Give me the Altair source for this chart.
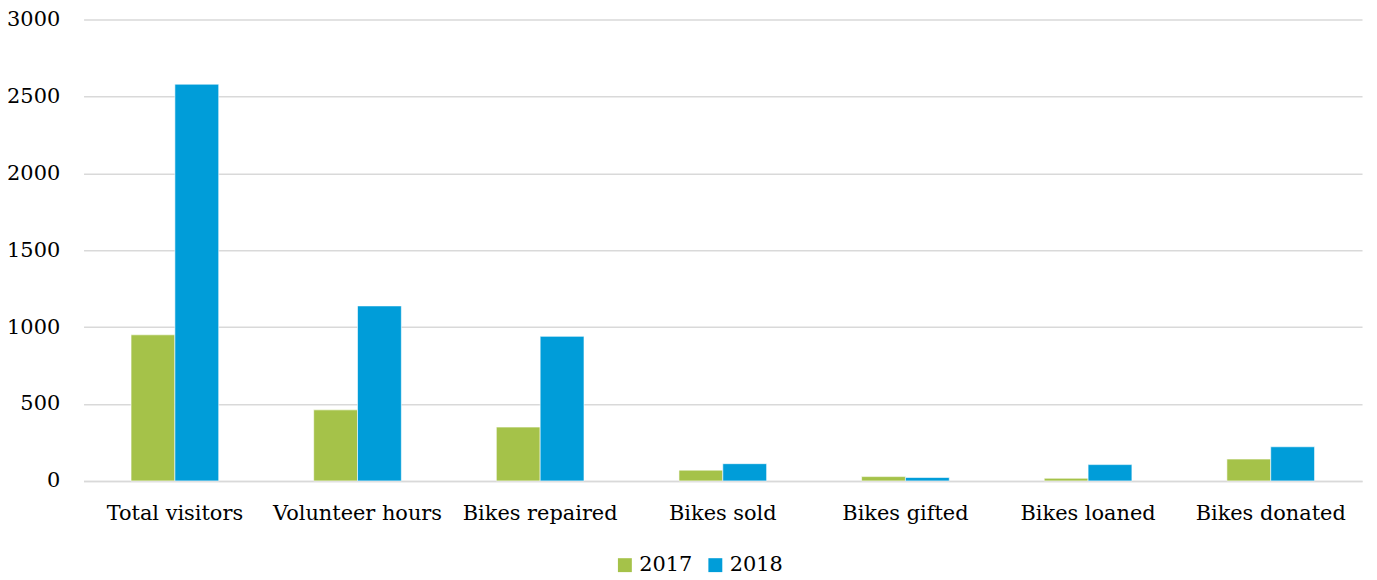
import altair as alt
import pandas as pd

categories = ["Total visitors", "Volunteer hours", "Bikes repaired", "Bikes sold",
              "Bikes gifted", "Bikes loaned", "Bikes donated"]
values_2017 = [950, 462, 350, 70, 28, 17, 142]
values_2018 = [2580, 1138, 940, 112, 22, 106, 222]
years = ["2017", "2018"]
colors = ["#A5C249", "#009DD9"]

rows = []
for c, a, b in zip(categories, values_2017, values_2018):
    rows.append({"category": c, "year": years[0], "value": a})
    rows.append({"category": c, "year": years[1], "value": b})
df = pd.DataFrame(rows)

FONT = "DejaVu Serif"
FS = 21

chart = alt.Chart(df).mark_bar(stroke="white", strokeWidth=0.6).encode(
    x=alt.X("category:N", sort=categories, title=None,
            scale=alt.Scale(paddingInner=0.52, paddingOuter=0.26),
            axis=alt.Axis(labelAngle=0, labelFont=FONT, labelFontSize=FS, labelColor="#000000",
                          labelPadding=22, ticks=False, domainColor="#d9d9d9", domainWidth=1.5)),
    xOffset=alt.XOffset("year:N", sort=years),
    y=alt.Y("value:Q", title=None,
            scale=alt.Scale(domain=[0, 3000], nice=False),
            axis=alt.Axis(values=[0, 500, 1000, 1500, 2000, 2500, 3000], format="d",
                          labelFont=FONT, labelFontSize=FS, labelColor="#000000", labelPadding=24,
                          ticks=False, domain=False, gridColor="#d9d9d9", gridWidth=1.5)),
    color=alt.Color("year:N", sort=years, scale=alt.Scale(domain=years, range=colors),
                    legend=alt.Legend(title=None, orient="none", direction="horizontal",
                                      legendX=534, legendY=538, labelFont=FONT, labelFontSize=FS,
                                      labelColor="#000000", symbolType="square", symbolSize=196,
                                      symbolStrokeWidth=0, columnPadding=12, labelOffset=4)),
).properties(
    width=1286, height=464,
    padding={"left": 76, "top": 10, "right": 7, "bottom": 98},
    autosize="none",
).configure_view(stroke=None)

chart.save("out.html", embed_options={"renderer": "svg", "actions": False})
